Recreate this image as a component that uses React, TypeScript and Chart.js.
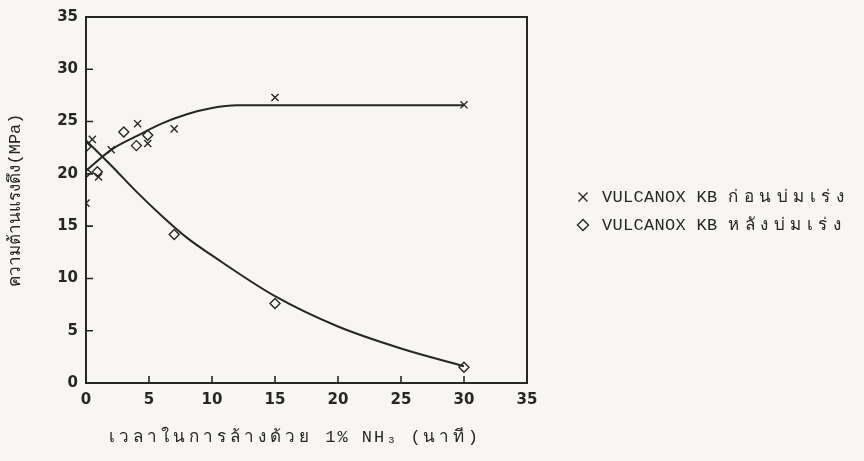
import { useEffect, useRef } from "react";
import { Chart, registerables } from "chart.js";

Chart.register(...registerables);

// Measured tensile strength (MPa) against washing time in 1% NH3 (minutes)
const beforeAgingX = [0, 0.5, 1, 2, 4.1, 4.9, 7, 15, 30];
const beforeAgingY = [17.2, 23.3, 19.7, 22.3, 24.8, 22.9, 24.3, 27.3, 26.6];
const afterAgingX = [0, 0, 0.9, 3, 4, 4.9, 7, 15, 30];
const afterAgingY = [22.6, 20.1, 20.2, 24.0, 22.7, 23.7, 14.2, 7.6, 1.5];

// Hand-fitted trend curves
const beforeFitX = [0, 2, 4, 6, 8, 10, 12, 30];
const beforeFitY = [20.3, 22.3, 23.6, 24.8, 25.7, 26.3, 26.55, 26.55];
const afterFitX = [0, 2, 4, 6, 8, 10, 15, 20, 25, 30];
const afterFitY = [23.2, 20.8, 18.3, 16.0, 13.9, 12.2, 8.3, 5.4, 3.3, 1.6];

const xTickValues = [0, 5, 10, 15, 20, 25, 30, 35];
const yTickValues = [0, 5, 10, 15, 20, 25, 30, 35];

const seriesLabels = ["VULCANOX KB ก่อนบ่มเร่ง", "VULCANOX KB หลังบ่มเร่ง"];
const xTitle = "เวลาในการล้างด้วย 1% NH₃ (นาที)";
const yTitle = "ความต้านแรงดึง(MPa)";

const INK = "#262626";
const PAPER = "#f7f6f2";
const textFont = "'Liberation Mono', 'DejaVu Sans Mono', monospace";

const toPoints = (xs: number[], ys: number[]) => xs.map((x, i) => ({ x, y: ys[i] }));

function drawMarker(ctx: CanvasRenderingContext2D, style: string, x: number, y: number, r: number) {
  ctx.beginPath();
  if (style === "crossRot") {
    ctx.moveTo(x - r, y - r);
    ctx.lineTo(x + r, y + r);
    ctx.moveTo(x + r, y - r);
    ctx.lineTo(x - r, y + r);
  } else {
    ctx.moveTo(x, y - r);
    ctx.lineTo(x + r, y);
    ctx.lineTo(x, y + r);
    ctx.lineTo(x - r, y);
    ctx.closePath();
  }
  ctx.stroke();
}

const THAI_RUNS = /[\u0E00-\u0E7F]+|[^\u0E00-\u0E7F]+/g;

// Typewriter-style text: Latin runs stay tight, Thai runs get extra spacing
function drawTypedText(
  ctx: CanvasRenderingContext2D,
  text: string,
  x: number,
  y: number,
  latinSpacing: number,
  thaiSpacing: number
) {
  const runs = text.match(THAI_RUNS) || [];
  let cx = x;
  const c = ctx as any;
  runs.forEach((run) => {
    const isThai = /[\u0E00-\u0E7F]/.test(run);
    c.letterSpacing = `${isThai ? thaiSpacing : latinSpacing}px`;
    ctx.fillText(run, cx, y);
    cx += ctx.measureText(run).width;
  });
  c.letterSpacing = "0px";
  return cx - x;
}

function measureTypedText(ctx: CanvasRenderingContext2D, text: string, latinSpacing: number, thaiSpacing: number) {
  const runs = text.match(THAI_RUNS) || [];
  const c = ctx as any;
  let w = 0;
  runs.forEach((run) => {
    const isThai = /[\u0E00-\u0E7F]/.test(run);
    c.letterSpacing = `${isThai ? thaiSpacing : latinSpacing}px`;
    w += ctx.measureText(run).width;
  });
  c.letterSpacing = "0px";
  return w;
}

const framePlugin = {
  id: "frameAndTicks",
  beforeDraw(chart: any) {
    const { ctx, width, height } = chart;
    ctx.save();
    ctx.fillStyle = PAPER;
    ctx.fillRect(0, 0, width, height);
    ctx.restore();
  },
  afterDatasetsDraw(chart: any) {
    const { ctx, chartArea } = chart;
    const { left, right, top, bottom } = chartArea;
    ctx.save();
    ctx.strokeStyle = INK;
    ctx.lineWidth = 2;
    ctx.strokeRect(left, top, right - left, bottom - top);
    ctx.lineWidth = 1.6;
    const xs = chart.scales.x;
    const ys = chart.scales.y;
    ctx.beginPath();
    xs.ticks.forEach((t: any) => {
      const px = xs.getPixelForValue(t.value);
      ctx.moveTo(px, bottom);
      ctx.lineTo(px, bottom - 7);
    });
    ys.ticks.forEach((t: any) => {
      const py = ys.getPixelForValue(t.value);
      ctx.moveTo(left, py);
      ctx.lineTo(left + 7, py);
    });
    ctx.stroke();

    // x-axis title, typed below the tick labels
    ctx.fillStyle = INK;
    ctx.textBaseline = "middle";
    ctx.textAlign = "left";
    ctx.font = `17px ${textFont}`;
    const tw = measureTypedText(ctx, xTitle, 2, 4);
    drawTypedText(ctx, xTitle, (left + right) / 2 - 12 - tw / 2, bottom + 54, 2, 4);

    // legend to the right of the plot
    ctx.lineWidth = 1.4;
    [0, 1].forEach((i) => {
      const ds = chart.data.datasets[i];
      const mx = right + 56;
      const my = top + 180 + i * 28;
      drawMarker(ctx, ds.pointStyle, mx, my, ds.pointStyle === "crossRot" ? 4.5 : 5.5);
      drawTypedText(ctx, ds.label, mx + 19, my, 0.3, 5.5);
    });
    ctx.restore();
  },
};

export default function App() {
  const canvasRef = useRef<HTMLCanvasElement | null>(null);

  useEffect(() => {
    document.body.style.margin = "0";
    document.body.style.background = PAPER;
    const canvas = canvasRef.current;
    if (!canvas) return;

    const chart = new Chart(canvas, {
      type: "scatter",
      data: {
        datasets: [
          {
            label: seriesLabels[0],
            data: toPoints(beforeAgingX, beforeAgingY),
            pointStyle: "crossRot",
            pointRadius: 5,
            pointBorderWidth: 1.4,
            borderColor: INK,
            backgroundColor: INK,
            showLine: false,
          },
          {
            label: seriesLabels[1],
            data: toPoints(afterAgingX, afterAgingY),
            pointStyle: "rectRot",
            pointRadius: 5,
            pointBorderWidth: 1.4,
            borderColor: INK,
            backgroundColor: "rgba(0,0,0,0)",
            showLine: false,
          },
          {
            label: "fit-before",
            data: toPoints(beforeFitX, beforeFitY),
            showLine: true,
            pointRadius: 0,
            borderColor: INK,
            borderWidth: 2,
            cubicInterpolationMode: "monotone",
          },
          {
            label: "fit-after",
            data: toPoints(afterFitX, afterFitY),
            showLine: true,
            pointRadius: 0,
            borderColor: INK,
            borderWidth: 2,
            cubicInterpolationMode: "monotone",
          },
        ],
      },
      options: {
        animation: false,
        responsive: true,
        maintainAspectRatio: false,
        layout: { padding: { top: 17, right: 337, bottom: 0, left: 0 } },
        plugins: {
          legend: { display: false },
          tooltip: { enabled: false },
        },
        scales: {
          x: {
            type: "linear",
            min: 0,
            max: 35,
            afterBuildTicks: (scale: any) => {
              scale.ticks = xTickValues.map((v) => ({ value: v }));
            },
            afterFit: (scale: any) => {
              scale.height = 78;
            },
            grid: { display: false, drawTicks: false },
            border: { display: false },
            ticks: {
              color: INK,
              padding: 8,
              font: { family: "'DejaVu Sans', sans-serif", size: 15, weight: "bold" },
            },
          },
          y: {
            type: "linear",
            min: 0,
            max: 35,
            afterBuildTicks: (scale: any) => {
              scale.ticks = yTickValues.map((v) => ({ value: v }));
            },
            afterFit: (scale: any) => {
              scale.width = 86;
            },
            grid: { display: false, drawTicks: false },
            border: { display: false },
            ticks: {
              color: INK,
              padding: 8,
              font: { family: "'DejaVu Sans', sans-serif", size: 15, weight: "bold" },
            },
            title: {
              display: true,
              text: yTitle,
              color: INK,
              padding: { top: 5, bottom: 0 },
              font: { family: textFont, size: 17 },
            },
          },
        },
      },
      plugins: [framePlugin],
    });

    return () => chart.destroy();
  }, []);

  return (
    <div style={{ position: "fixed", left: 0, top: 0, width: 864, height: 461 }}>
      <canvas ref={canvasRef} />
    </div>
  );
}
